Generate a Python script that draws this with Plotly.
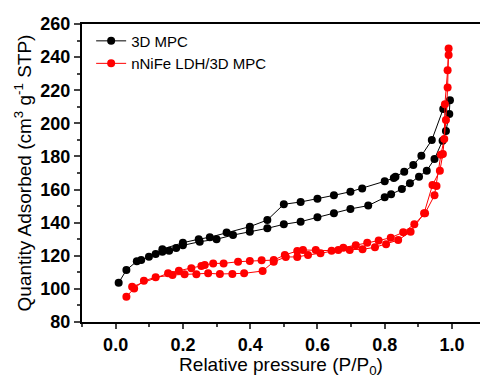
import plotly.graph_objects as go

# 3D MPC (adsorption then desorption branch)
mpc_ads_p = [0.009, 0.032, 0.063, 0.076, 0.099, 0.119, 0.139, 0.159, 0.18, 0.2, 0.25, 0.30, 0.349,
             0.399, 0.451, 0.5, 0.55, 0.6, 0.649, 0.698, 0.751, 0.8, 0.819, 0.851, 0.875, 0.902,
             0.925, 0.948, 0.972, 0.982, 0.992, 0.994]
mpc_ads_q = [103.7, 111.4, 116.7, 117.4, 119.4, 121.1, 122.5, 123.1, 124.7, 126.3, 128.5, 130.0, 132.5,
             134.5, 136.6, 139.0, 140.6, 143.2, 145.7, 148.3, 150.3, 155.3, 157.1, 160.3, 163.8, 167.8,
             171.4, 178.5, 189.5, 195.4, 205.6, 213.9]
mpc_des_p = [0.974, 0.94, 0.909, 0.885, 0.858, 0.832, 0.827, 0.8, 0.733, 0.698, 0.649, 0.6, 0.55,
             0.5, 0.451, 0.399, 0.33, 0.28, 0.247, 0.2, 0.139]
mpc_des_q = [208.7, 189.9, 180.4, 174.8, 170.7, 167.8, 167.0, 165.0, 160.7, 158.7, 156.5, 154.5, 152.5,
             151.1, 141.6, 137.6, 134.0, 131.2, 130.0, 127.9, 124.0]

# nNiFe LDH/3D MPC
ldh_ads_p = [0.032, 0.055, 0.084, 0.119, 0.169, 0.205, 0.24, 0.275, 0.31, 0.347, 0.382, 0.437, 0.47,
             0.506, 0.54, 0.572, 0.609, 0.662, 0.696, 0.734, 0.771, 0.804, 0.84, 0.877, 0.917, 0.942,
             0.964, 0.973, 0.982, 0.987, 0.99, 0.99]
ldh_ads_q = [95.3, 100.3, 104.9, 107.0, 108.4, 108.8, 108.8, 109.4, 109.0, 109.0, 109.4, 110.8, 116.4,
             119.3, 119.3, 120.5, 121.5, 123.5, 123.5, 123.9, 125.1, 127.0, 129.5, 134.5, 145.7, 162.7,
             171.4, 181.5, 202.0, 221.7, 241.2, 245.2]
ldh_des_p = [0.987, 0.979, 0.977, 0.967, 0.954, 0.948, 0.92, 0.888, 0.855, 0.818, 0.782, 0.748, 0.714,
             0.677, 0.642, 0.595, 0.557, 0.54, 0.503, 0.47, 0.434, 0.399, 0.364, 0.321, 0.29, 0.265,
             0.255, 0.225, 0.188, 0.156, 0.049]
ldh_des_q = [232.1, 211.6, 190.6, 181.0, 162.1, 156.5, 145.7, 139.0, 134.2, 130.9, 129.2, 127.9, 126.3,
             124.9, 123.1, 123.5, 123.5, 122.9, 120.5, 117.4, 117.3, 116.8, 116.4, 115.4, 115.4, 114.4,
             113.8, 112.4, 111.0, 109.4, 101.3]

y_ticks = [80, 100, 120, 140, 160, 180, 200, 220, 240, 260]
x_ticks = [0.0, 0.2, 0.4, 0.6, 0.8, 1.0]
x_labels = ["0.0", "0.2", "0.4", "0.6", "0.8", "1.0"]

fig = go.Figure()
fig.add_trace(go.Scatter(x=mpc_ads_p + mpc_des_p, y=mpc_ads_q + mpc_des_q, mode="lines+markers",
                         name="3D MPC", line=dict(color="black", width=1),
                         marker=dict(color="black", size=8, symbol="circle")))
fig.add_trace(go.Scatter(x=ldh_ads_p + ldh_des_p, y=ldh_ads_q + ldh_des_q, mode="lines+markers",
                         name="nNiFe LDH/3D MPC", line=dict(color="red", width=1),
                         marker=dict(color="red", size=8, symbol="circle")))

fam = "Arial, Liberation Sans, sans-serif"
axis_font = dict(family=fam, size=19, color="black")
tick_font = dict(family=fam, size=18, color="black", weight="bold")
fig.update_layout(
    width=480, height=378,
    margin=dict(l=82, r=0, t=24, b=56, autoexpand=False),
    paper_bgcolor="white", plot_bgcolor="white",
    font=dict(family=fam, color="black"),
    showlegend=True,
    legend=dict(x=0.023, y=0.998, xanchor="left", yanchor="top", bgcolor="rgba(0,0,0,0)",
                font=dict(size=15, family=fam),
                tracegroupgap=0, itemwidth=30),
    xaxis=dict(range=[-0.1, 1.0833], tickvals=x_ticks, ticktext=x_labels, automargin=False,
               tickfont=tick_font,
               ticks="outside", ticklen=5, tickwidth=1.5, showgrid=False, zeroline=False,
               showline=True, linecolor="black", linewidth=2, mirror=True,
               minor=dict(ticks="outside", ticklen=3, tickwidth=1.5, dtick=0.1, tick0=0),
               title=dict(text="Relative pressure (P/P<sub>0</sub>)", font=axis_font, standoff=2)),
    yaxis=dict(range=[80, 260], tickvals=y_ticks, automargin=False,
               tickfont=tick_font,
               ticks="outside", ticklen=6, tickwidth=1.5, showgrid=False, zeroline=False,
               showline=True, linecolor="black", linewidth=2, mirror=True,
               minor=dict(ticks="outside", ticklen=3, tickwidth=1.5, dtick=10, tick0=80),
               title=dict(text="Quantity Adsorbed (cm<sup>3</sup> g<sup>-1</sup> STP)", font=axis_font, standoff=4)),
)
fig.write_html("out.html", config={"displayModeBar": False},
               post_script="document.body.style.margin='0';document.body.style.overflow='hidden';")
